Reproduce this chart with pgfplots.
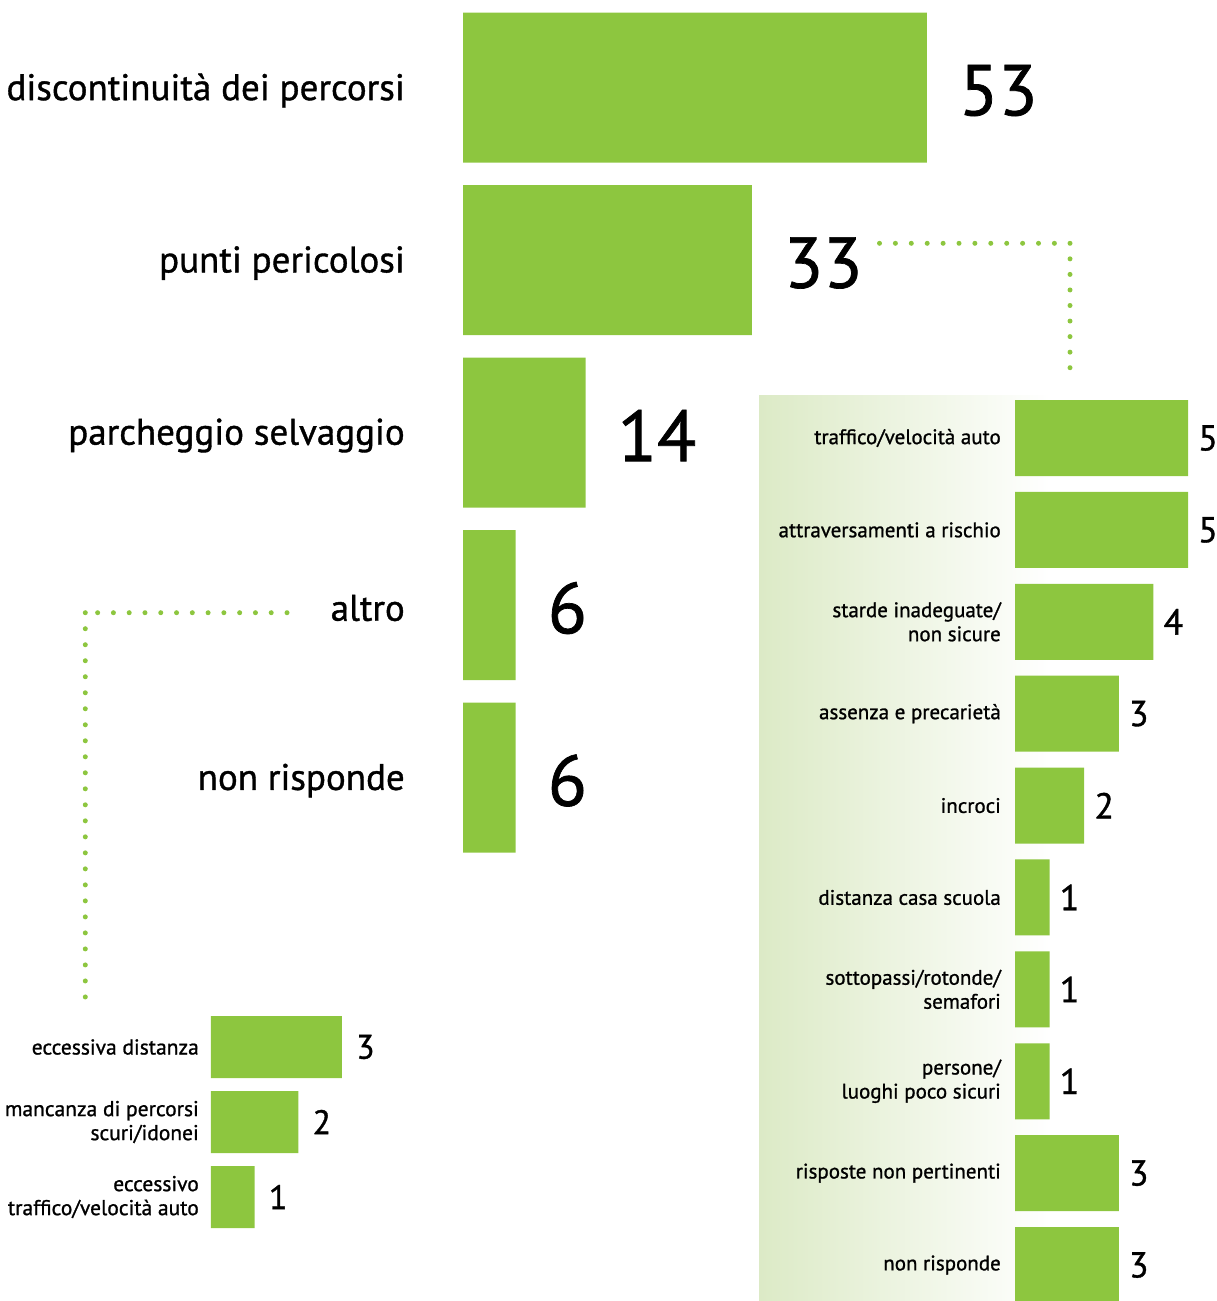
\documentclass[border=0pt]{standalone}
\usepackage{pgfplots}
\pgfplotsset{compat=1.18}
\usepackage{fontspec}
\setmainfont{PT Sans}[FakeBold=1]
\definecolor{bargreen}{HTML}{8DC63F}
\definecolor{panelgreen}{HTML}{DCEAC6}
\pgfplotsset{
  common/.style={
    xbar, scale only axis, clip=false, y dir=reverse,
    axis line style={draw=none}, xtick=\empty, ytick=data,
    major tick length=0pt, xmin=0,
    /pgf/number format/assume math mode=true,
    yticklabel style={inner sep=0pt, anchor=east, align=right},
    nodes near coords,
    every node near coord/.append style={inner sep=0pt, anchor=west, text=black},
  }
}
\begin{document}
\begin{tikzpicture}
\path[use as bounding box] (0pt,0pt) rectangle (1216pt,-1301pt);
\fill[left color=panelgreen, right color=white] (759pt,-395pt) rectangle (1050pt,-1301pt);
\tikzset{dots/.style={bargreen, line width=5pt, line cap=round}}
\draw[dots, dash pattern=on 0pt off 15.9pt] (879.5pt,-243.3pt) -- (1070pt,-243.3pt);
\draw[dots, dash pattern=on 0pt off 15.55pt] (1070pt,-243.3pt) -- (1070pt,-367.7pt);
\draw[dots, dash pattern=on 0pt off 15.78pt] (287pt,-612.7pt) -- (97.6pt,-612.7pt);
\draw[dots, dash pattern=on 0pt off 16.01pt] (85.3pt,-612.7pt) -- (85.3pt,-997pt);

% main chart
\begin{axis}[common, at={(463pt,-1.25pt)}, anchor=north west,
  width=464pt, height=862.5pt, xmax=53, ymin=-0.5, ymax=4.5, bar width=150pt,
  yticklabels={discontinuità dei percorsi, punti pericolosi, parcheggio selvaggio, altro, non risponde},
  yticklabel style={font=\fontsize{37}{40}\selectfont, xshift=-58pt, yshift=-3pt},
  every node near coord/.append style={font=\fontsize{72}{72}\selectfont, xshift=32pt, yshift=-3pt}]
\addplot[fill=bargreen, draw=none] coordinates {(53,0) (33,1) (14,2) (6,3) (6,4)};
\end{axis}

% right panel
\begin{axis}[common, at={(1015pt,-392.05pt)}, anchor=north west,
  width=173pt, height=918.9pt, xmax=5, ymin=-0.5, ymax=9.5, bar width=76pt,
  yticklabels={traffico/velocità auto, attraversamenti a rischio, {starde inadeguate/\\non sicure}, assenza e precarietà, incroci, distanza casa scuola, {sottopassi/rotonde/\\semafori}, {persone/\\luoghi poco sicuri}, risposte non pertinenti, non risponde},
  yticklabel style={font=\fontsize{21}{24}\selectfont, xshift=-14pt},
  every node near coord/.append style={font=\fontsize{36}{36}\selectfont, xshift=10pt}]
\addplot[fill=bargreen, draw=none] coordinates {(5,0) (5,1) (4,2) (3,3) (2,4) (1,5) (1,6) (1,7) (3,8) (3,9)};
\end{axis}

% left panel
\begin{axis}[common, at={(211pt,-1009.5pt)}, anchor=north west,
  width=131pt, height=225pt, xmax=3, ymin=-0.5, ymax=2.5, bar width=62pt,
  yticklabels={eccessiva distanza, {mancanza di percorsi\\scuri/idonei}, {eccessivo\\traffico/velocità auto}},
  yticklabel style={font=\fontsize{21.5}{24}\selectfont, xshift=-12pt},
  every node near coord/.append style={font=\fontsize{34}{34}\selectfont, xshift=14pt}]
\addplot[fill=bargreen, draw=none] coordinates {(3,0) (2,1) (1,2)};
\end{axis}
\end{tikzpicture}
\end{document}
